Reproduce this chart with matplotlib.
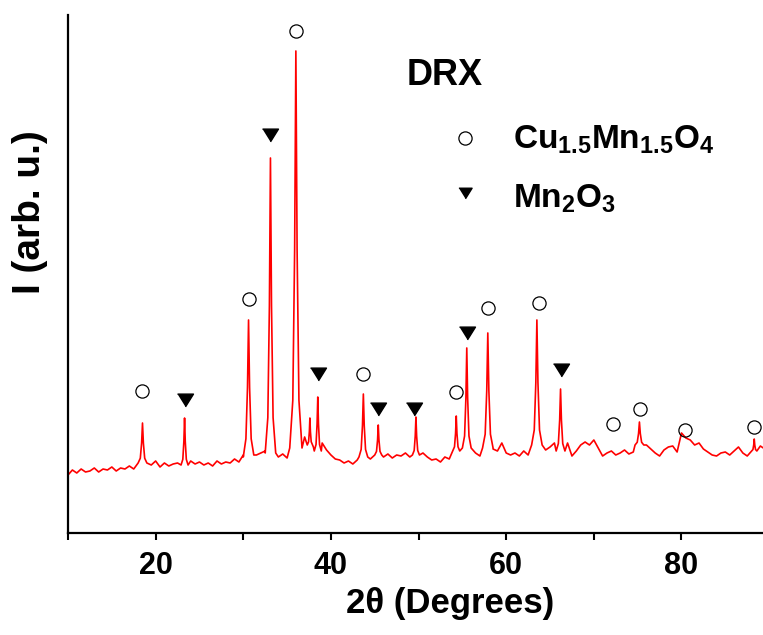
import numpy as np
import matplotlib
matplotlib.use('Agg')
import matplotlib.pyplot as plt

plt.rcParams['font.family'] = ['Liberation Sans', 'DejaVu Sans']
plt.rcParams['font.weight'] = 'bold'
plt.rcParams['mathtext.fontset'] = 'custom'
plt.rcParams['mathtext.default'] = 'bf'
plt.rcParams['mathtext.bf'] = 'Liberation Sans:bold'
plt.rcParams['mathtext.rm'] = 'Liberation Sans:bold'

# background trace, every 0.5 degree from 10 to 89.5 (intensity, arb. u.)
bg_start, bg_step = 10.0, 0.5
bg_y = [
    58, 63, 60, 64, 61, 62, 65, 61, 64, 63,    # 10.0 - 14.5
    66, 62, 65, 64, 67, 64, 68, 66, 70, 68,    # 15.0 - 19.5
    72, 66, 70, 67, 69, 70, 68, 71, 72, 69,    # 20.0 - 24.5
    71, 68, 70, 67, 72, 69, 71, 70, 74, 71,    # 25.0 - 29.5
    76, 80, 83, 78, 80, 82, 79, 84, 76, 79,    # 30.0 - 34.5
    75, 80, 90, 82, 96, 90, 86, 88, 90, 83,    # 35.0 - 39.5
    78, 74, 73, 70, 72, 69, 73, 71, 76, 74,    # 40.0 - 44.5
    80, 78, 76, 79, 75, 78, 77, 80, 76, 78,    # 45.0 - 49.5
    79, 80, 76, 73, 74, 71, 76, 74, 78, 76,    # 50.0 - 54.5
    84, 88, 86, 80, 77, 80, 78, 84, 82, 90,    # 55.0 - 59.5
    80, 78, 80, 77, 82, 78, 80, 89, 80, 83,    # 60.0 - 64.5
    86, 90, 92, 101, 90, 77, 82, 88, 91, 88,   # 65.0 - 69.5
    93, 85, 77, 80, 82, 78, 80, 83, 79, 81,    # 70.0 - 74.5
    86, 82, 88, 84, 80, 77, 83, 86, 87, 81,    # 75.0 - 79.5
    100, 95, 93, 88, 90, 84, 81, 78, 77, 80,   # 80.0 - 84.5
    81, 78, 82, 86, 80, 77, 78, 82, 87, 84,    # 85.0 - 89.5
]

# diffraction peaks: position (deg), top, foot level, half width at foot (deg)
pk_pos   = [18.5, 23.3, 30.6, 33.1, 36.0, 37.6, 38.5, 43.7, 45.4, 49.7,
            54.3, 55.5, 57.9, 63.5, 66.2, 75.2, 88.3]
pk_top   = [110, 115, 213, 375, 482, 115, 136, 139, 108, 116,
            117, 185, 200, 213, 144, 111, 94]
pk_base  = [70, 68, 78, 80, 85, 88, 82, 76, 78, 78,
            82, 85, 85, 88, 82, 88, 82]
pk_width = [0.5, 0.4, 0.6, 0.6, 0.7, 0.3, 0.4, 0.5, 0.4, 0.4,
            0.4, 0.5, 0.6, 0.6, 0.5, 0.5, 0.3]

# phase markers
cu_x = [18.5, 30.6, 36.0, 43.7, 54.3, 57.9, 63.7, 72.2, 75.3, 80.4, 88.3]
cu_y = [142, 234, 502, 159, 141, 225, 230, 109, 124, 103, 106]
mn_x = [23.3, 33.1, 38.5, 45.4, 49.5, 55.5, 66.2]
mn_y = [133, 398, 159, 124, 124, 200, 163]

bg_x = bg_start + bg_step * np.arange(len(bg_y))

# build the trace: background points away from peaks + peak outlines
offs = np.array([-1.0, -0.5, -0.2, 0.0, 0.2, 0.5, 1.0])
frac = np.array([0.0, 0.12, 0.5, 1.0, 0.5, 0.12, 0.0])
keep = np.ones(len(bg_x), dtype=bool)
px, py = [], []
for p, t, b, w in zip(pk_pos, pk_top, pk_base, pk_width):
    keep &= np.abs(bg_x - p) > w
    px.extend(p + offs * w)
    py.extend(b + frac * (t - b))
x = np.concatenate([bg_x[keep], px])
y = np.concatenate([np.array(bg_y)[keep], py])
order = np.argsort(x)
x, y = x[order], y[order]

fig = plt.figure(figsize=(7.63, 6.35), dpi=100)
ax = fig.add_axes([68 / 763, 102 / 635, 695 / 763, 518 / 635])

ax.plot(x, y, color='red', lw=1.2)

tri = [(-1, 0.8), (1, 0.8), (0, -0.8)]
ax.plot(cu_x, cu_y, 'o', ms=9.5, mfc='none', mec='black', mew=0.9, ls='none')
ax.plot(mn_x, mn_y, marker=tri, ms=11.5, color='black', ls='none')

ax.set_xlim(10, 89.3)
ax.set_ylim(0, 518)
ax.set_xticks([20, 40, 60, 80])
ax.set_xticks([10, 30, 50, 70], minor=True)
ax.set_yticks([])
ax.tick_params(axis='x', which='both', direction='out', length=5, width=1.5,
               labelsize=22, pad=8)
for s in ['top', 'right']:
    ax.spines[s].set_visible(False)
for s in ['left', 'bottom']:
    ax.spines[s].set_linewidth(1.6)

ax.set_xlabel('2θ (Degrees)', fontsize=25, fontweight='bold')
ax.xaxis.set_label_coords(0.55, -0.105)
ax.set_ylabel('I (arb. u.)', fontsize=28, fontweight='bold', va='center')
ax.yaxis.set_label_coords(-0.055, 0.62)

# inset legend
ax.text(0.487, 0.884, 'DRX', transform=ax.transAxes, fontsize=26,
        fontweight='bold', va='center', ha='left')
ax.plot([0.571], [0.762], 'o', ms=9.5, mfc='none', mec='black', mew=0.9,
        transform=ax.transAxes, clip_on=False)
ax.plot([0.571], [0.656], marker=tri, ms=9.5, color='black',
        transform=ax.transAxes, clip_on=False)
ax.text(0.640, 0.760, r'$Cu_{1.5}Mn_{1.5}O_4$', transform=ax.transAxes,
        fontsize=24, va='center', ha='left')
ax.text(0.640, 0.645, r'$Mn_2O_3$', transform=ax.transAxes,
        fontsize=24, va='center', ha='left')

plt.savefig('out.png', dpi=100)
